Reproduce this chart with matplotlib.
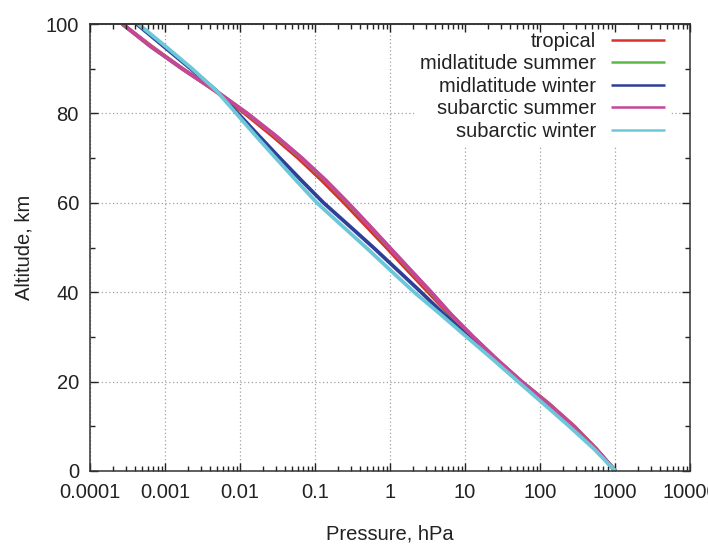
import matplotlib
matplotlib.use("Agg")
import matplotlib.pyplot as plt
import numpy as np
from matplotlib.ticker import FixedLocator, NullFormatter

altitude_km = [0, 5, 10, 15, 20, 25, 30, 35, 40, 45, 50, 55, 60, 65, 70, 75, 80, 85, 90, 95, 100]

p_tropical = [1013, 559, 286, 132, 56.5, 25.9, 12.4, 6.2, 3.25, 1.7, 0.9, 0.47, 0.245, 0.124,
              0.060, 0.027, 0.0116, 0.0047, 0.0017, 0.00066, 0.00027]
p_mid_summer = [1013, 553, 280, 131, 56.8, 26.3, 12.8, 6.5, 3.5, 1.85, 0.98, 0.52, 0.272, 0.138,
                0.066, 0.0295, 0.0124, 0.0048, 0.0017, 0.00064, 0.00027]
p_mid_winter = [1018, 540, 258, 118, 53.7, 24.6, 11.3, 5.3, 2.6, 1.25, 0.60, 0.28, 0.130, 0.066,
                0.034, 0.0178, 0.0094, 0.0049, 0.0022, 0.00096, 0.00042]
p_sub_summer = [1010, 553, 280, 131, 57.0, 26.5, 12.9, 6.55, 3.55, 1.87, 0.99, 0.525, 0.275, 0.14,
                0.067, 0.030, 0.0125, 0.0048, 0.0017, 0.00064, 0.00027]
p_sub_winter = [1013, 520, 245, 112, 51.0, 23.4, 10.5, 4.75, 2.1, 1.0, 0.48, 0.225, 0.106, 0.056,
                0.030, 0.0162, 0.0089, 0.0049, 0.0023, 0.00102, 0.00044]

series_names = ["tropical", "midlatitude summer", "midlatitude winter",
                "subarctic summer", "subarctic winter"]
series_values = [p_tropical, p_mid_summer, p_mid_winter, p_sub_summer, p_sub_winter]
series_colors = ["#d9302c", "#5cb845", "#2e3f99", "#c8449a", "#6cc8d8"]

x_tick_values = [1e-4, 1e-3, 1e-2, 1e-1, 1, 10, 100, 1000, 10000]
x_tick_labels = ["0.0001", "0.001", "0.01", "0.1", "1", "10", "100", "1000", "10000"]
y_tick_values = [0, 20, 40, 60, 80, 100]

plt.rcParams['font.family'] = ['Liberation Sans', 'DejaVu Sans']
plt.rcParams['font.size'] = 14.5

fig = plt.figure(figsize=(7.08, 5.46), dpi=100)
rect = [90/708, 75/546, 600/708, 447/546]
ax = fig.add_axes(rect)

for name, vals, col in zip(series_names, series_values, series_colors):
    ax.plot(vals, altitude_km, color=col, lw=2.7, label=name, solid_capstyle='butt')

minors = [m * 10.0**e for e in range(-4, 4) for m in range(2, 10)]

ax.set_xscale('log')
ax.set_xlim(1e-4, 1e4)
ax.set_ylim(0, 100)
ax.set_xticks(x_tick_values)
ax.set_xticklabels(x_tick_labels)
ax.xaxis.set_minor_locator(FixedLocator(minors))
ax.xaxis.set_minor_formatter(NullFormatter())
ax.set_yticks(y_tick_values)
ax.yaxis.set_minor_locator(FixedLocator([10, 30, 50, 70, 90]))

ax.tick_params(which='both', direction='in', top=False, right=True, colors='#222222',
               labelcolor='#222222', labelsize=14.5)
ax.tick_params(which='major', length=6, width=1)
ax.tick_params(which='minor', length=3.5, width=1)
ax.tick_params(axis='x', pad=9)
ax.tick_params(axis='y', pad=8)

ax.grid(True, which='major', color='#a0a0a0', lw=0.9, linestyle=(0, (1, 2)))
for s in ax.spines.values():
    s.set_color('#333333')
    s.set_linewidth(1.1)
    s.set_zorder(3)

ax.set_xlabel("Pressure, hPa", fontsize=14.5, labelpad=16, color='#222222')
ax.set_ylabel("Altitude, km", fontsize=14.5, labelpad=9, color='#222222')

leg = ax.legend(loc='upper right', bbox_to_anchor=(0.985, 1.018), markerfirst=False,
                frameon=True, fancybox=False, edgecolor='none', facecolor='white',
                framealpha=1.0, handlelength=2.7, handletextpad=0.7, labelspacing=0.17,
                borderpad=0.3, fontsize=14.5)
leg.set_zorder(2.2)
for line in leg.get_lines():
    line.set_linewidth(1.8)
for t in leg.get_texts():
    t.set_color('#222222')

# overlay axes carrying the top tick marks so they stay visible above the legend box
ax_top = fig.add_axes(rect, label="top-ticks")
ax_top.set_zorder(ax.get_zorder() + 1)
ax_top.patch.set_visible(False)
ax_top.set_xscale('log')
ax_top.set_xlim(1e-4, 1e4)
ax_top.set_ylim(0, 100)
ax_top.set_xticks(x_tick_values)
ax_top.xaxis.set_minor_locator(FixedLocator(minors))
ax_top.xaxis.set_minor_formatter(NullFormatter())
ax_top.set_yticks([])
ax_top.tick_params(which='both', direction='in', top=True, bottom=False, labeltop=False,
                   labelbottom=False, colors='#222222')
ax_top.tick_params(which='major', length=6, width=1)
ax_top.tick_params(which='minor', length=3.5, width=1)
for s in ax_top.spines.values():
    s.set_visible(False)
ax_top.spines['top'].set_visible(True)
ax_top.spines['top'].set_color('#333333')
ax_top.spines['top'].set_linewidth(1.1)

fig.savefig("out.png", dpi=100)
